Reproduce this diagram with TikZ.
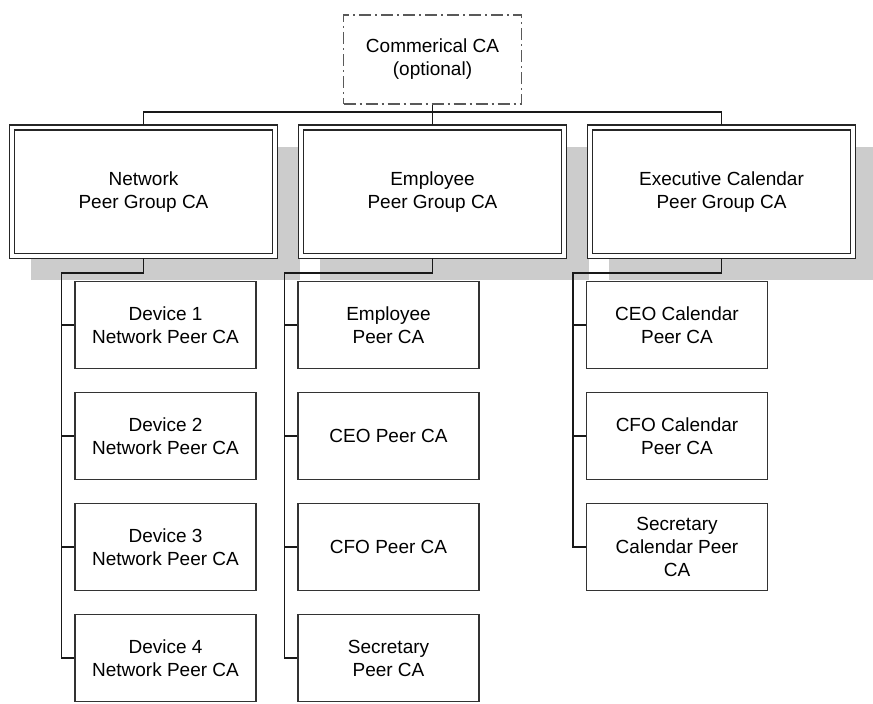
\documentclass[tikz,border=0pt]{standalone}
\usepackage{fontspec}
\setmainfont{Liberation Sans}
\usetikzlibrary{positioning,backgrounds}

\begin{document}
\begin{tikzpicture}[x=1pt, y=-1pt,
    every node/.style={font=\fontsize{19}{23}\selectfont, align=center, inner sep=0pt},
    optca/.style={rectangle, draw=black!65, line width=1.2pt, dash pattern=on 12pt off 4pt on 2pt off 4pt, minimum width=178pt, minimum height=89pt},
    groupca/.style={rectangle, draw=black!85, fill=white, line width=1.2pt, double=white, double distance=3.8pt, outer sep=2.5pt, minimum width=263.5pt, minimum height=128.5pt},
    peerca/.style={rectangle, draw=black!80, fill=white, line width=1.2pt, minimum width=181pt, minimum height=87.5pt},
    link/.style={draw=black!90, line width=1.2pt},
    groupshadow/.style={fill=black!20}
  ]
  \useasboundingbox (0,0) rectangle (873,704);

  % root
  \node[optca] (commca) at (432.5,59.5) {Commerical CA\\(optional)};

  % peer groups
  \node[groupca] (net) at (143.5,191.7) {Network\\Peer Group CA};
  \node[groupca] (emp) at (432.5,191.7) {Employee\\Peer Group CA};
  \node[groupca] (exe) at (721.5,191.7) {Executive Calendar\\Peer Group CA};

  \begin{scope}[on background layer]
    \foreach \g in {net,emp,exe}
      \fill[groupshadow] ([shift={(22,22)}]\g.north west) rectangle ([shift={(22,22)}]\g.south east);
  \end{scope}

  % network peers
  \node[peerca] (dev1) at (165.5,325) {Device 1\\Network Peer CA};
  \node[peerca, below=22.3pt of dev1] (dev2) {Device 2\\Network Peer CA};
  \node[peerca, below=22.3pt of dev2] (dev3) {Device 3\\Network Peer CA};
  \node[peerca, below=22.3pt of dev3] (dev4) {Device 4\\Network Peer CA};

  % employee peers
  \node[peerca] (empca) at (388.5,325) {Employee\\Peer CA};
  \node[peerca, below=22.3pt of empca] (ceo) {CEO Peer CA};
  \node[peerca, below=22.3pt of ceo] (cfo) {CFO Peer CA};
  \node[peerca, below=22.3pt of cfo] (sec) {Secretary\\Peer CA};

  % calendar peers
  \node[peerca] (ceocal) at (677,325) {CEO Calendar\\Peer CA};
  \node[peerca, below=22.3pt of ceocal] (cfocal) {CFO Calendar\\Peer CA};
  \node[peerca, below=22.3pt of cfocal] (seccal) {Secretary\\Calendar Peer\\CA};

  % links
  \draw[link] (commca.south) -- (emp.north);
  \draw[link] (net.north) -- ++(0,-13) -| (exe.north);

  \draw[link] (net.south) -- ++(0,14.5) -| ([xshift=-13pt]dev4.west) -- (dev4.west);
  \foreach \n in {dev1,dev2,dev3}
    \draw[link] ([xshift=-13pt]\n.west) -- (\n.west);

  \draw[link] (emp.south) -- ++(0,14.5) -| ([xshift=-13pt]sec.west) -- (sec.west);
  \foreach \n in {empca,ceo,cfo}
    \draw[link] ([xshift=-13pt]\n.west) -- (\n.west);

  \draw[link] (exe.south) -- ++(0,14.5) -| ([xshift=-13pt]seccal.west) -- (seccal.west);
  \foreach \n in {ceocal,cfocal}
    \draw[link] ([xshift=-13pt]\n.west) -- (\n.west);
\end{tikzpicture}
\end{document}
